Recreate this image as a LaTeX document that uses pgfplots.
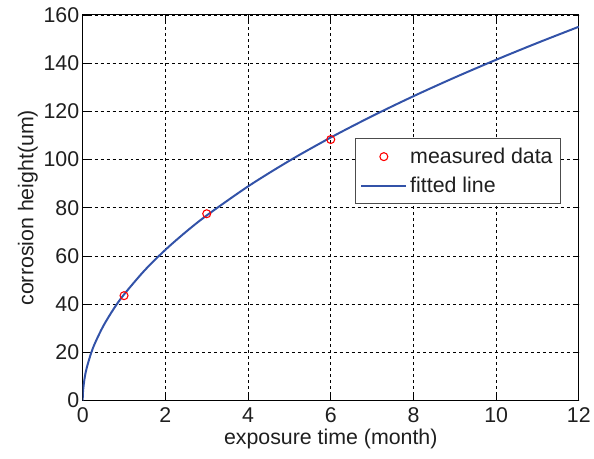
\documentclass[border=0pt]{standalone}
\usepackage{fontspec}
\setmainfont{Liberation Sans}
\usepackage{pgfplots}
\pgfplotsset{compat=1.18}
\definecolor{fitblue}{RGB}{50,82,168}
\pgfplotsset{
  legmark/.style={legend image code/.code={\draw[mark repeat=2,mark phase=2,##1] plot coordinates {(0bp,0bp) (22.5bp,0bp) (45bp,0bp)};}},
  legline/.style={legend image code/.code={\draw[##1] (0bp,0bp) -- (45bp,0bp);}},
}
\begin{document}
\begin{tikzpicture}[x=1bp,y=1bp]
\begin{axis}[
  scale only axis,
  width=498bp, height=387bp,
  xmin=0, xmax=12, ymin=0, ymax=160,
  xtick={0,2,...,12}, ytick={0,20,...,160},
  tick align=inside,
  tick style={black, line width=0.7pt},
  major tick length=6bp,
  axis line style={black, line width=0.9pt},
  grid=major,
  major grid style={black, dash pattern=on 3bp off 3bp, line width=0.7pt},
  /pgf/number format/assume math mode=true,
  ticklabel style={font=\fontsize{21.5}{24}\selectfont, text=black!88},
  xticklabel style={yshift=-4bp},
  xlabel={exposure time (month)},
  ylabel={corrosion height(um)},
  label style={font=\fontsize{21.5}{24}\selectfont, text=black!88},
  xlabel style={yshift=1bp},
  ylabel style={yshift=-1bp},
  legend style={at={(0.964,0.680)}, anchor=north east, draw=black!70,
    font=\fontsize{21.5}{24}\selectfont, text=black!88,
    inner xsep=5bp, inner ysep=3.5bp,
    row sep=0bp, line width=0.8pt,
    nodes={inner xsep=3bp, inner ysep=6bp}},
  legend cell align=left,
  clip=true,
]
\addplot[only marks, mark=o, draw=red, mark size=4bp, line width=1.1pt, legmark]
  coordinates {(1,43.5) (3,77.5) (6,108.3)};
\addlegendentry{measured data}
\addplot[fitblue, line width=2pt, smooth, legline]
  coordinates {
  (0,0) (0.01,4.26) (0.05,9.64) (0.1,13.69) (0.2,19.46) (0.3,23.90)
  (0.5,30.96) (0.75,38.03) (1,44.0) (1.5,54.04) (2,62.53) (2.5,70.02)
  (3,76.80) (4,88.85) (5,99.50) (6,109.14) (7,118.01) (8,126.28)
  (9,134.05) (10,141.40) (11,148.40) (12,155.10)};
\addlegendentry{fitted line}
\end{axis}
\path (current axis.south west) ++(-83bp,-58bp) coordinate (bbsw);
\path (current axis.south west) ++(511bp,402bp) coordinate (bbne);
\useasboundingbox (bbsw) rectangle (bbne);
\end{tikzpicture}
\end{document}
